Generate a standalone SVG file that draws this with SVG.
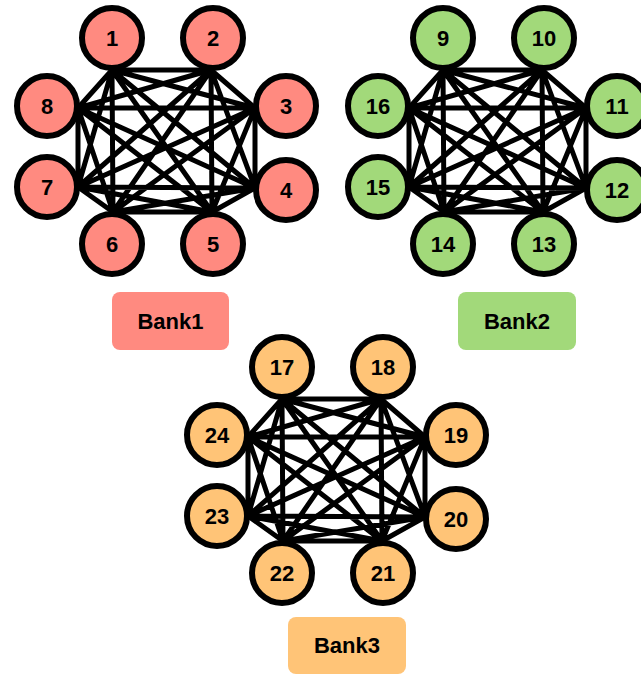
<svg xmlns="http://www.w3.org/2000/svg" xmlns:xlink="http://www.w3.org/1999/xlink" width="641" height="675" viewBox="0 0 641 675">
<style>
.bg{fill:#ffffff}
.edge{fill:none;stroke:#000000;stroke-width:5}
.n{stroke:#000000;stroke-width:6}
.r{fill:#FF8A80}
.g{fill:#A2D97A}
.o{fill:#FFC477}
.t{font-family:"Liberation Sans",Arial,sans-serif;font-weight:bold;font-size:22px;fill:#000000;text-anchor:middle}
</style>
<defs>
<path id="k8" class="edge" d="M112 70L211 70M112 70L255 108M112 70L255 188M112 70L212 212M112 70L113 212M112 70L78 187M112 70L78 108M211 70L255 108M211 70L255 188M211 70L212 212M211 70L113 212M211 70L78 187M211 70L78 108M255 108L255 188M255 108L212 212M255 108L113 212M255 108L78 187M255 108L78 108M255 188L212 212M255 188L113 212M255 188L78 187M255 188L78 108M212 212L113 212M212 212L78 187M212 212L78 108M113 212L78 187M113 212L78 108M78 187L78 108"/>
</defs>
<rect class="bg" x="0" y="0" width="641" height="675"/>
<g id="connectors">
<use xlink:href="#k8" href="#k8"/>
<use xlink:href="#k8" href="#k8" x="331" y="0"/>
<use xlink:href="#k8" href="#k8" x="170" y="329"/>
</g>
<g id="node-1"><circle class="n r" cx="112" cy="38" r="30"/><text class="t" x="112" y="46">1</text></g>
<g id="node-2"><circle class="n r" cx="213" cy="38" r="30"/><text class="t" x="213" y="46">2</text></g>
<g id="node-3"><circle class="n r" cx="286" cy="106" r="30"/><text class="t" x="286" y="114">3</text></g>
<g id="node-4"><circle class="n r" cx="286" cy="190" r="30"/><text class="t" x="286" y="198">4</text></g>
<g id="node-5"><circle class="n r" cx="213" cy="244" r="30"/><text class="t" x="213" y="252">5</text></g>
<g id="node-6"><circle class="n r" cx="112" cy="244" r="30"/><text class="t" x="112" y="252">6</text></g>
<g id="node-7"><circle class="n r" cx="47" cy="187" r="30"/><text class="t" x="47" y="195">7</text></g>
<g id="node-8"><circle class="n r" cx="47" cy="106" r="30"/><text class="t" x="47" y="114">8</text></g>
<g id="node-9"><circle class="n g" cx="443" cy="38" r="30"/><text class="t" x="443" y="46">9</text></g>
<g id="node-10"><circle class="n g" cx="544" cy="38" r="30"/><text class="t" x="544" y="46">10</text></g>
<g id="node-11"><circle class="n g" cx="617" cy="106" r="30"/><text class="t" x="617" y="114">11</text></g>
<g id="node-12"><circle class="n g" cx="617" cy="190" r="30"/><text class="t" x="617" y="198">12</text></g>
<g id="node-13"><circle class="n g" cx="544" cy="244" r="30"/><text class="t" x="544" y="252">13</text></g>
<g id="node-14"><circle class="n g" cx="443" cy="244" r="30"/><text class="t" x="443" y="252">14</text></g>
<g id="node-15"><circle class="n g" cx="378" cy="187" r="30"/><text class="t" x="378" y="195">15</text></g>
<g id="node-16"><circle class="n g" cx="378" cy="106" r="30"/><text class="t" x="378" y="114">16</text></g>
<g id="node-17"><circle class="n o" cx="282" cy="367" r="30"/><text class="t" x="282" y="375">17</text></g>
<g id="node-18"><circle class="n o" cx="383" cy="367" r="30"/><text class="t" x="383" y="375">18</text></g>
<g id="node-19"><circle class="n o" cx="456" cy="435" r="30"/><text class="t" x="456" y="443">19</text></g>
<g id="node-20"><circle class="n o" cx="456" cy="519" r="30"/><text class="t" x="456" y="527">20</text></g>
<g id="node-21"><circle class="n o" cx="383" cy="573" r="30"/><text class="t" x="383" y="581">21</text></g>
<g id="node-22"><circle class="n o" cx="282" cy="573" r="30"/><text class="t" x="282" y="581">22</text></g>
<g id="node-23"><circle class="n o" cx="217" cy="516" r="30"/><text class="t" x="217" y="524">23</text></g>
<g id="node-24"><circle class="n o" cx="217" cy="435" r="30"/><text class="t" x="217" y="443">24</text></g>
<g id="bank1"><rect class="r" x="112" y="292" width="117" height="58" rx="8"/><text class="t" x="170.5" y="329">Bank1</text></g>
<g id="bank2"><rect class="g" x="458" y="292" width="118" height="58" rx="8"/><text class="t" x="517" y="329">Bank2</text></g>
<g id="bank3"><rect class="o" x="288" y="617" width="118" height="57" rx="8"/><text class="t" x="347" y="653">Bank3</text></g>
</svg>
